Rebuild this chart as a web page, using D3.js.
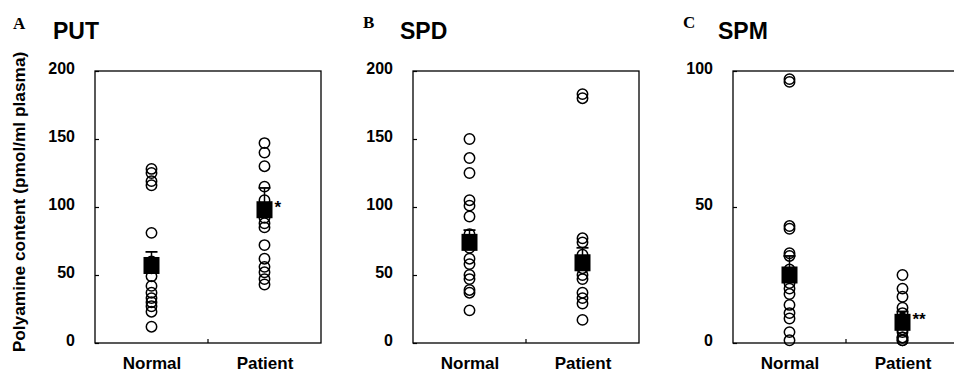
<!DOCTYPE html>
<html>
<head>
<meta charset="utf-8">
<script src="https://cdn.jsdelivr.net/npm/d3@7"></script>
<style>
  body { margin: 0; background: #fff; }
  text { font-family: "Liberation Sans", Arial, sans-serif; font-weight: bold; fill: #000; }
</style>
</head>
<body>
<div id="chart"></div>
<script>
const W = 954, H = 374;
const MARGIN = {top: 71, bottom: 31};   // plot box top / space under it
const BOX_W = 226;

// data
const groups = ["Normal", "Patient"];
const panels = ["PUT", "SPD", "SPM"];
const panelLetters = ["A", "B", "C"];
const panelLeft = [95, 413, 733];
const letterX = [13, 363, 683];
const titleX = [53, 400, 718];
const yMax = [200, 200, 100];
const yTicks = [[0, 50, 100, 150, 200], [0, 50, 100, 150, 200], [0, 50, 100]];

const putNormal  = [128, 125, 119, 116, 81, 60, 55, 49, 42, 37, 33, 30, 27, 23, 12];
const putPatient = [147, 140, 130, 115, 105, 92, 88, 85, 72, 62, 56, 52, 47, 43];
const spdNormal  = [150, 136, 125, 105, 101, 93, 80, 70, 62, 58, 50, 47, 39, 37, 24];
const spdPatient = [183, 180, 77, 74, 65, 55, 50, 47, 37, 33, 29, 17];
const spmNormal  = [97, 96, 43, 42, 33, 32, 27, 22, 20, 18, 14, 11, 9, 4, 1];
const spmPatient = [25, 20, 17, 13, 11, 9, 7, 5, 4, 2, 2, 1, 1];

const means = [[57, 98], [74, 59], [25, 7.6]];
const sems  = [[10, 16], [9, 11], [7, 4]];
const signif = [["", "*"], ["", ""], ["", "**"]];

const points = [[putNormal, putPatient], [spdNormal, spdPatient], [spmNormal, spmPatient]];

const svg = d3.select("#chart").append("svg")
    .attr("width", W)
    .attr("height", H);

// y axis title, shared
svg.append("text")
    .attr("transform", "translate(25,202) rotate(-90)")
    .attr("text-anchor", "middle")
    .style("font-size", "17.3px")
    .text("Polyamine content (pmol/ml plasma)");

const innerH = H - MARGIN.top - MARGIN.bottom;

panels.forEach((name, i) => {
    const g = svg.append("g")
        .attr("transform", `translate(${panelLeft[i]},${MARGIN.top})`);

    const x = d3.scalePoint().domain(groups).range([0, BOX_W]).padding(0.5);
    const y = d3.scaleLinear().domain([0, yMax[i]]).range([innerH, 0]);

    // panel letter + title
    svg.append("text")
        .attr("x", letterX[i])
        .attr("y", i == 0 ? 29 : 28)
        .style("font-family", "'Liberation Serif', 'Times New Roman', serif")
        .style("font-size", "17px")
        .text(panelLetters[i]);
    svg.append("text")
        .attr("x", titleX[i])
        .attr("y", 39)
        .style("font-size", "23px")
        .text(name);

    // frame
    g.append("rect")
        .attr("width", BOX_W)
        .attr("height", innerH)
        .attr("fill", "none")
        .attr("stroke", "#000")
        .attr("stroke-width", 1.3);

    const yAxis = d3.axisLeft(y).tickValues(yTicks[i]).tickSize(-4).tickPadding(20);
    g.append("g")
        .attr("class", "y_axis")
        .call(yAxis)
        .call(a => a.select(".domain").remove())
        .call(a => a.selectAll("line").attr("stroke-width", 1.2))
        .call(a => a.selectAll("text").style("font-size", "16px").attr("font-family", null).attr("dy", "0.15em"));

    const xAxis = d3.axisBottom(x).tickSize(0).tickPadding(0);
    g.append("g")
        .attr("class", "x_axis")
        .attr("transform", `translate(0,${innerH})`)
        .call(xAxis)
        .call(a => a.select(".domain").remove())
        .call(a => a.selectAll("text").style("font-size", "17px").attr("font-family", null).attr("y", 26).attr("dy", 0));

    // separator tick between the groups
    g.append("line")
        .attr("x1", BOX_W / 2).attr("x2", BOX_W / 2)
        .attr("y1", innerH).attr("y2", innerH - 4)
        .attr("stroke", "#000")
        .attr("stroke-width", 1.2);

    groups.forEach((grp, j) => {
        const cx = x(grp);

        g.selectAll(`.dot${j}`)
            .data(points[i][j])
            .enter()
            .append("circle")
            .attr("class", `dot${j}`)
            .attr("cx", cx)
            .attr("cy", d => y(d))
            .attr("r", 5.2)
            .attr("fill", "none")
            .attr("stroke", "#000")
            .attr("stroke-width", 1.5);

        const m = means[i][j], s = sems[i][j];
        // upper error bar
        g.append("line")
            .attr("x1", cx).attr("x2", cx)
            .attr("y1", y(m)).attr("y2", y(m + s))
            .attr("stroke", "#000").attr("stroke-width", 1.5);
        g.append("line")
            .attr("x1", cx - 6).attr("x2", cx + 6)
            .attr("y1", y(m + s)).attr("y2", y(m + s))
            .attr("stroke", "#000").attr("stroke-width", 1.8);
        // mean square
        g.append("rect")
            .attr("x", cx - 8)
            .attr("y", y(m) - 8.5)
            .attr("width", 16)
            .attr("height", 17)
            .attr("fill", "#000");

        if (signif[i][j]) {
            g.append("text")
                .attr("x", cx + 10)
                .attr("y", y(m) + 3)
                .style("font-size", "17px")
                .text(signif[i][j]);
        }
    });
});
</script>
</body>
</html>
